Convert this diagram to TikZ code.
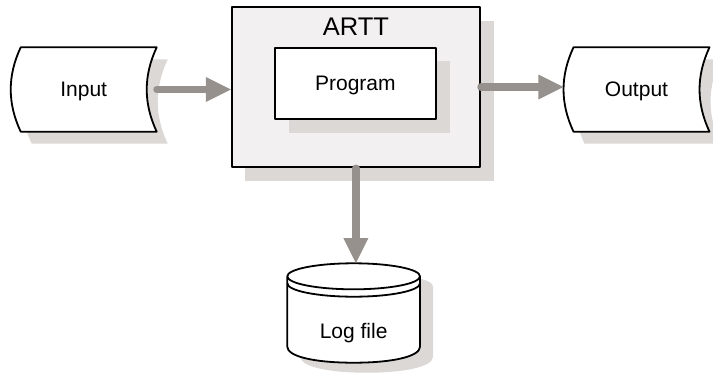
\documentclass[tikz,border=0pt]{standalone}
\usepackage{fontspec}
\setmainfont{Liberation Sans}
\usetikzlibrary{arrows.meta,calc,shadows,backgrounds}
\definecolor{shadowgray}{RGB}{219,216,213}
\definecolor{flowgray}{RGB}{150,145,140}
\definecolor{panelgray}{RGB}{242,240,240}
\tikzset{
  outline/.style={draw=black, line width=1.8pt, line join=round},
  lbl/.style={font=\fontsize{21}{25}\selectfont, inner sep=0pt, text height=14.5pt, text depth=0pt},
  title/.style={font=\fontsize{25.5}{30}\selectfont, inner sep=0pt, text height=17.5pt, text depth=0pt},
  boxshadow/.style 2 args={drop shadow={shadow xshift=#1pt, shadow yshift=-#2pt, fill=shadowgray, opacity=1}},
  plate/.style={outline, fill=panelgray, minimum width=248.3pt, minimum height=160.6pt, inner sep=0pt},
  procbox/.style={outline, fill=white, minimum width=160.7pt, minimum height=71.6pt, inner sep=0pt,
    font=\fontsize{21}{25}\selectfont, text height=14.5pt, text depth=0pt},
  flow/.style={draw=flowgray, line width=7.3pt, line cap=round,
    -{Triangle[length=25pt, width=25pt, line width=0pt]}},
  % punched-tape style data shape, both sides curved to the left
  tape/.pic={\path[pic actions] (-63,-42.2) -- (73,-42.2)
      .. controls (59.7,-13.7) and (59.7,13.7) .. (73,42.2) -- (-63,42.2)
      .. controls (-76.3,13.7) and (-76.3,-13.7) .. cycle;},
  % disk storage drum
  drumbody/.pic={\path[pic actions] (-66.35,-36.7) -- (-66.35,33.7)
      .. controls (-66.35,43.3) and (-39.8,49.7) .. (0,49.7)
      .. controls (39.8,49.7) and (66.35,43.3) .. (66.35,33.7) -- (66.35,-36.7);
    \path[pic actions] (0,-36.7) ellipse [x radius=66.35pt, y radius=13pt];},
  drumrim/.pic={\path[pic actions] (-66.35,-29.7)
      .. controls (-66.35,-22.3) and (-36.65,-16.3) .. (0,-16.3)
      .. controls (36.65,-16.3) and (66.35,-22.3) .. (66.35,-29.7);},
}
\begin{document}
\begin{tikzpicture}[x=1pt, y=-1pt]
  \useasboundingbox (0,0) rectangle (713,373);
  \clip (0,0) rectangle (713,373);

  % processing unit with the program inside
  \node[plate, boxshadow={13.5}{14}] (artt) at (355.85,87) {};
  \node[title] (arttname) at (355.85,27) {ARTT};
  \node[procbox, boxshadow={14}{13.5}] (program) at (355.35,83.5) {Program};

  % data nodes
  \node[lbl, minimum width=146pt, minimum height=84.4pt] (input) at (83.7,89.5) {Input};
  \node[lbl, minimum width=146pt, minimum height=84.4pt] (output) at (636.5,89.5) {Output};
  \node[inner sep=0pt, minimum width=132.7pt, minimum height=99.4pt] (logfile) at (353.65,313) {};
  \node[lbl] (logname) at ($(logfile.center)+(0,17.8)$) {Log file};

  \begin{scope}[on background layer]
    \pic[fill=shadowgray] at ($(input.center)+(11,12)$) {tape};
    \pic[fill=shadowgray] at ($(output.center)+(11,12)$) {tape};
    \pic[fill=shadowgray] at ($(logfile.center)+(13,10)$) {drumbody};
    \pic[outline, fill=white] at (input.center) {tape};
    \pic[outline, fill=white] at (output.center) {tape};
    \pic[outline, fill=white] at (logfile.center) {drumbody};
    \pic[outline] at (logfile.center) {drumrim};
  \end{scope}

  % data flow
  \draw[flow] (input.east) -- (input.east -| artt.west);
  \draw[flow] (artt.east) -- (artt.east -| output.west);
  \draw[flow] (artt.south) -- (artt.south |- logfile.north);
\end{tikzpicture}
\end{document}
